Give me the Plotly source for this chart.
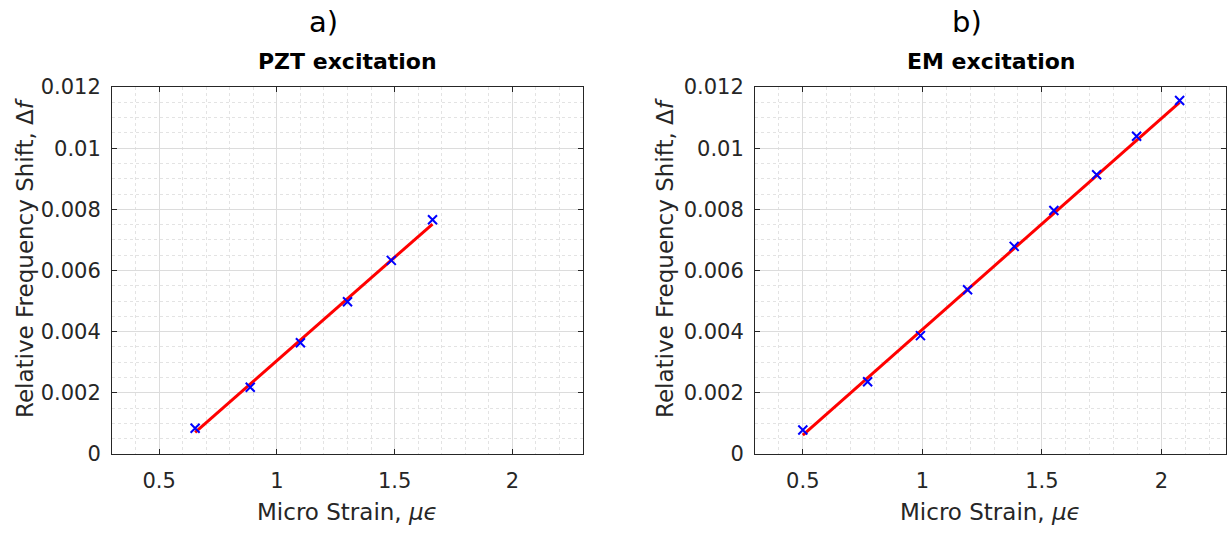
import plotly.graph_objects as go

# ---- data ----
pzt_strain = [0.653, 0.887, 1.100, 1.300, 1.486, 1.661]
pzt_shift = [0.00084, 0.00218, 0.00364, 0.00498, 0.00633, 0.00766]
pzt_fit_strain = [0.653, 1.661]
pzt_fit_shift = [0.00071, 0.00752]

em_strain = [0.500, 0.771, 0.992, 1.189, 1.384, 1.550, 1.729, 1.896, 2.076]
em_shift = [0.000785, 0.002365, 0.00387, 0.00537, 0.00679, 0.00796, 0.00913, 0.01039, 0.01156]
em_fit_strain = [0.500, 2.076]
em_fit_shift = [0.00062, 0.01150]

x_ticks = [0.5, 1, 1.5, 2]
x_tick_labels = ["0.5", "1", "1.5", "2"]
y_ticks = [0, 0.002, 0.004, 0.006, 0.008, 0.01, 0.012]
y_tick_labels = ["0", "0.002", "0.004", "0.006", "0.008", "0.01", "0.012"]

panel_labels = ["a)", "b)"]
panel_titles = ["PZT excitation", "EM excitation"]
x_title = "Micro Strain, <i>μϵ</i>"
y_title = "Relative Frequency Shift, Δ<i>f</i>"

W, H = 1227, 533
FONT = "DejaVu Sans"
AX = "#262626"

fig = go.Figure()

for i, (sx, sy, fx, fy) in enumerate([
    (pzt_strain, pzt_shift, pzt_fit_strain, pzt_fit_shift),
    (em_strain, em_shift, em_fit_strain, em_fit_shift),
]):
    xa = "x" if i == 0 else "x2"
    ya = "y" if i == 0 else "y2"
    fig.add_trace(go.Scatter(x=fx, y=fy, mode="lines", xaxis=xa, yaxis=ya,
                             line=dict(color="#ff0000", width=3), showlegend=False))
    fig.add_trace(go.Scatter(x=sx, y=sy, mode="markers", xaxis=xa, yaxis=ya,
                             marker=dict(symbol="x-thin", size=9, color="#0000ff",
                                         line=dict(color="#0000ff", width=2)),
                             showlegend=False))

def px_x(p):
    return p / W

def px_y(p):
    return 1 - p / H

domains_x = [[px_x(112), px_x(583)], [px_x(755), px_x(1226)]]
domain_y = [px_y(454), px_y(87)]
x_ranges = [[0.3, 2.3], [0.3, 2.27]]

common_x = dict(
    tickvals=x_ticks, ticktext=x_tick_labels, showgrid=True, gridcolor="#dcdcdc",
    gridwidth=1, zeroline=False, showline=True, linecolor=AX, linewidth=1, mirror="allticks",
    ticks="inside", ticklen=5, tickcolor=AX, tickfont=dict(family=FONT, size=21, color=AX),
    minor=dict(dtick=0.1, tick0=0, showgrid=True, gridcolor="#e3e3e3", griddash="dot",
               gridwidth=1, ticks=""),
    ticklabelstandoff=8, automargin=False,
)
common_y = dict(
    tickvals=y_ticks, ticktext=y_tick_labels, range=[0, 0.012], showgrid=True,
    gridcolor="#dcdcdc", gridwidth=1, zeroline=False, showline=True, linecolor=AX,
    linewidth=1, mirror="allticks", ticks="inside", ticklen=5, tickcolor=AX,
    tickfont=dict(family=FONT, size=21, color=AX),
    minor=dict(dtick=0.0005, tick0=0, showgrid=True, gridcolor="#e3e3e3", griddash="dot",
               gridwidth=1, ticks=""),
    ticklabelstandoff=6, automargin=False,
)

fig.update_layout(
    width=W, height=H, autosize=False,
    margin=dict(l=0, r=0, t=0, b=0, pad=0, autoexpand=False),
    paper_bgcolor="white", plot_bgcolor="white",
    xaxis=dict(domain=domains_x[0], range=x_ranges[0], anchor="y", **common_x),
    yaxis=dict(domain=domain_y, anchor="x", **common_y),
    xaxis2=dict(domain=domains_x[1], range=x_ranges[1], anchor="y2", **common_x),
    yaxis2=dict(domain=domain_y, anchor="x2", **common_y),
)

label_cx = [323.5, 967]
title_cx = [347.5, 990.5]
ylab_cx = [25, 665]
for i in range(2):
    fig.add_annotation(text=panel_labels[i], x=px_x(label_cx[i]), y=px_y(22), xref="paper",
                       yref="paper", showarrow=False, xanchor="center", yanchor="middle",
                       font=dict(family=FONT, size=29, color="black"))
    fig.add_annotation(text="<b>" + panel_titles[i] + "</b>", x=px_x(title_cx[i]), y=px_y(62),
                       xref="paper", yref="paper", showarrow=False, xanchor="center",
                       yanchor="middle", font=dict(family=FONT, size=22, color="black"))
    fig.add_annotation(text=x_title, x=px_x(title_cx[i]), y=px_y(512), xref="paper",
                       yref="paper", showarrow=False, xanchor="center", yanchor="middle",
                       font=dict(family=FONT, size=23, color=AX))
    fig.add_annotation(text=y_title, x=px_x(ylab_cx[i]), y=px_y(258), xref="paper",
                       yref="paper", showarrow=False, xanchor="center", yanchor="middle",
                       textangle=-90, font=dict(family=FONT, size=23, color=AX))

post = (
    "var d=document.getElementById('{plot_id}');"
    "document.documentElement.style.margin='0';document.body.style.margin='0';"
    "document.body.style.padding='0';"
    "document.documentElement.style.height='533px';document.body.style.height='533px';"
    "document.documentElement.style.overflow='hidden';document.body.style.overflow='hidden';"
    "d.style.position='absolute';d.style.top='0px';d.style.left='0px';"
)

fig.write_html("out.html", config={"displayModeBar": False}, post_script=post)
